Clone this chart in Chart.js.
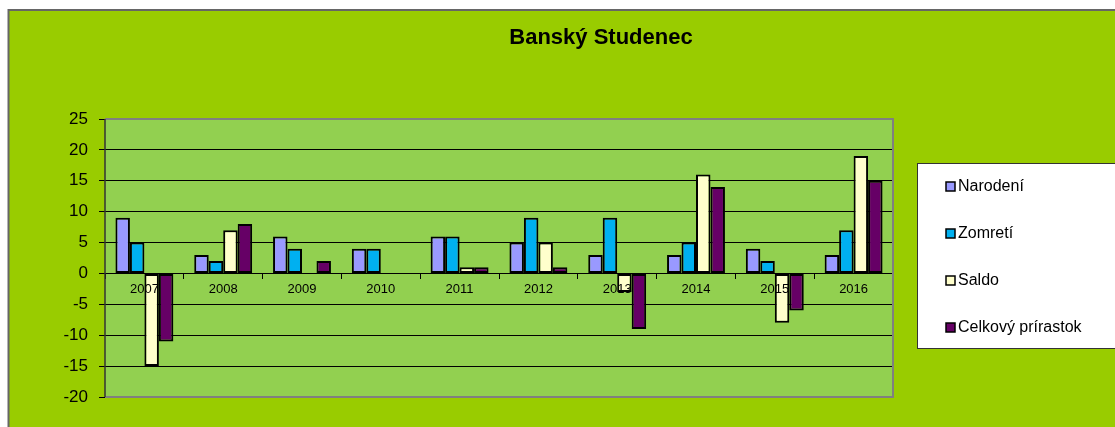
<!DOCTYPE html>
<html>
<head>
<meta charset="utf-8">
<script src="https://cdn.jsdelivr.net/npm/chart.js@4"></script>
<style>
  html, body { margin: 0; padding: 0; background: #fff; }
  canvas { display: block; }
</style>
</head>
<body>
<canvas id="chart" width="1115" height="427"></canvas>
<script>
/* ── Data ─────────────────────────────────────────────── */
const years = ['2007', '2008', '2009', '2010', '2011', '2012', '2013', '2014', '2015', '2016'];
const narodeni = [9, 3, 6, 4, 6, 5, 3, 3, 4, 3];
const zomreti  = [5, 2, 4, 4, 6, 9, 9, 5, 2, 7];
const saldo    = [-15, 7, 0, 0, 1, 5, -3, 16, -8, 19];
const celkovy  = [-11, 8, 2, 0, 1, 1, -9, 14, -6, 15];
const seriesNames = ['Narodení', 'Zomretí', 'Saldo', 'Celkový prírastok'];
const chartTitle = 'Banský Studenec';

const Colors = {
  page: '#99CC00',
  plot: '#92D050',
  frame: '#666666',
  plotBorder: '#808080',
  narodeni: '#9999FF',
  zomreti: '#00B0F0',
  saldo: '#FFFFCC',
  celkovy: '#660066',
};

const FONT = 'Arial, "Liberation Sans", sans-serif';
Chart.defaults.font.family = FONT;
Chart.defaults.color = '#000';

/* ── Background, title, frame and legend ──────────────── */
const decorations = {
  id: 'decorations',
  beforeDraw(chart) {
    const { ctx, chartArea: a, width, height } = chart;
    ctx.save();
    ctx.fillStyle = '#fff';
    ctx.fillRect(0, 0, width, height);
    ctx.fillStyle = Colors.page;
    ctx.fillRect(8, 10, width - 8, height - 10);
    ctx.strokeStyle = Colors.frame;
    ctx.lineWidth = 2;
    ctx.beginPath();
    ctx.moveTo(8.5, height);
    ctx.lineTo(8.5, 10);
    ctx.lineTo(width, 10);
    ctx.stroke();
    ctx.fillStyle = Colors.plot;
    ctx.fillRect(a.left, a.top, a.right - a.left, a.bottom - a.top);

    ctx.fillStyle = '#000';
    ctx.font = 'bold 22px ' + FONT;
    ctx.textAlign = 'center';
    ctx.textBaseline = 'middle';
    ctx.fillText(chartTitle, 601, 38);
    ctx.restore();
  },
  beforeDatasetsDraw(chart) {
    const { ctx, chartArea: a } = chart;
    ctx.save();
    ctx.strokeStyle = Colors.plotBorder;
    ctx.lineWidth = 2;
    ctx.beginPath();
    ctx.moveTo(a.left, a.top);
    ctx.lineTo(a.right, a.top);
    ctx.lineTo(a.right, a.bottom);
    ctx.lineTo(a.left, a.bottom);
    ctx.stroke();
    ctx.strokeStyle = '#333';
    ctx.lineWidth = 1.5;
    ctx.beginPath();
    ctx.moveTo(a.left, a.top);
    ctx.lineTo(a.left, a.bottom);
    ctx.stroke();
    ctx.restore();
  },
  afterDraw(chart) {
    const { ctx, width } = chart;
    ctx.save();
    ctx.fillStyle = '#fff';
    ctx.fillRect(917, 163, width - 917, 186);
    ctx.strokeStyle = '#333';
    ctx.lineWidth = 1;
    ctx.strokeRect(917.5, 163.5, width, 185);
    ctx.font = '16px ' + FONT;
    ctx.textAlign = 'left';
    ctx.textBaseline = 'middle';
    chart.data.datasets.forEach((ds, i) => {
      const y = 187 + i * 47;
      ctx.fillStyle = ds.backgroundColor;
      ctx.fillRect(946, y - 5, 9, 9);
      ctx.strokeStyle = '#000';
      ctx.lineWidth = 1.5;
      ctx.strokeRect(946, y - 5, 9, 9);
      ctx.fillStyle = '#000';
      ctx.fillText(ds.label, 958, y);
    });
    ctx.restore();
  },
};

const barStyle = {
  borderColor: '#000',
  borderWidth: 2,
  borderSkipped: false,
  categoryPercentage: 0.735,
  barPercentage: 1.0,
};

new Chart(document.getElementById('chart'), {
  type: 'bar',
  data: {
    labels: years,
    datasets: [
      { label: seriesNames[0], data: narodeni, backgroundColor: Colors.narodeni, ...barStyle },
      { label: seriesNames[1], data: zomreti, backgroundColor: Colors.zomreti, ...barStyle },
      { label: seriesNames[2], data: saldo, backgroundColor: Colors.saldo, ...barStyle },
      { label: seriesNames[3], data: celkovy, backgroundColor: Colors.celkovy, ...barStyle },
    ],
  },
  options: {
    responsive: false,
    animation: false,
    layout: { padding: { top: 119, right: 222, bottom: 30, left: 10 } },
    plugins: {
      legend: { display: false },
      title: { display: false },
      tooltip: { enabled: false },
    },
    scales: {
      x: {
        position: { y: 0 },
        grid: { drawOnChartArea: false, drawTicks: true, tickLength: 5, color: '#000', offset: true },
        border: { display: true, color: '#000', width: 1 },
        ticks: { font: { size: 13 }, padding: 3, color: '#000', maxRotation: 0, z: 1 },
      },
      y: {
        min: -20,
        max: 25,
        afterFit: (scale) => { scale.width = 95; },
        grid: { color: '#000', lineWidth: 1, tickLength: 6, drawTicks: true },
        border: { display: false },
        ticks: { stepSize: 5, font: { size: 17 }, padding: 11, color: '#000' },
      },
    },
  },
  plugins: [decorations],
});
</script>
</body>
</html>
